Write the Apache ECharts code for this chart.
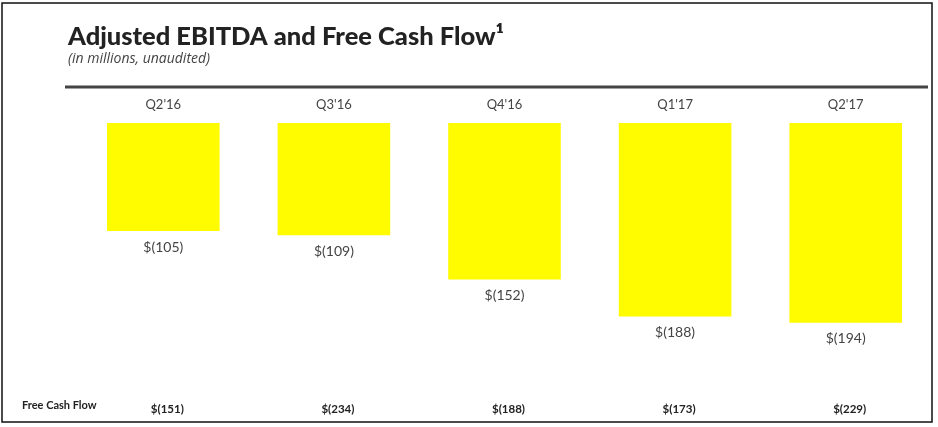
<!DOCTYPE html>
<html>
<head>
<meta charset="utf-8">
<script src="https://cdn.jsdelivr.net/npm/echarts@6/dist/echarts.min.js"></script>
<style>
  html, body { margin: 0; padding: 0; background: #fff; }
  #main { width: 938px; height: 427px; }
</style>
</head>
<body>
<div id="main"></div>
<script>
var quarters = ["Q2'16", "Q3'16", "Q4'16", "Q1'17", "Q2'17"];
var adjustedEbitda = [-105, -109, -152, -188, -194];
var freeCashFlow = [-151, -234, -188, -173, -229];

function money(v) {
    return '$(' + Math.abs(v) + ')';
}

initChart();

function initChart() {
    var chartDom = document.getElementById('main');
    var myChart = echarts.init(chartDom);
    var option;

    option = {
        animation: false,
        backgroundColor: '#fff',
        textStyle: { fontFamily: 'Lato, "Open Sans", sans-serif' },
        title: {
            text: 'Adjusted EBITDA and Free Cash Flow\u00b9',
            subtext: '(in millions, unaudited)',
            left: 63,
            top: 19,
            itemGap: 2,
            textStyle: {
                fontFamily: 'Lato, sans-serif',
                fontSize: 25.5,
                fontWeight: 900,
                color: '#222'
            },
            subtextStyle: {
                fontFamily: '"Open Sans", sans-serif',
                fontSize: 14,
                fontStyle: 'italic',
                color: '#444'
            }
        },
        graphic: [
            {
                type: 'rect',
                shape: { x: 2, y: 3, width: 930, height: 419 },
                style: { fill: 'none', stroke: '#111', lineWidth: 1.5 },
                silent: true
            },
            {
                type: 'line',
                shape: { x1: 65, y1: 87, x2: 928, y2: 87 },
                style: { stroke: '#444', lineWidth: 3 },
                silent: true
            },
            {
                type: 'text',
                left: 22,
                top: 400,
                style: {
                    text: 'Free Cash Flow',
                    font: 'bold 11px Lato, "Open Sans", sans-serif',
                    fill: '#222'
                }
            }
        ],
        grid: {
            left: 78,
            right: 7,
            top: 123,
            bottom: 26
        },
        xAxis: [
            {
                type: 'category',
                position: 'top',
                data: quarters,
                axisLine: { show: false },
                axisTick: { show: false },
                axisLabel: {
                    margin: 12,
                    fontSize: 13,
                    color: '#444'
                }
            },
            {
                type: 'category',
                position: 'bottom',
                data: freeCashFlow.map(money),
                axisLine: { show: false },
                axisTick: { show: false },
                axisLabel: {
                    margin: 2,
                    fontSize: 11.5,
                    fontWeight: 'bold',
                    color: '#222',
                    padding: [0, 0, 0, 8]
                }
            }
        ],
        yAxis: [
            {
                type: 'value',
                min: -270,
                max: 0,
                show: false,
                splitLine: { show: false }
            }
        ],
        series: [
            {
                name: 'Adjusted EBITDA',
                type: 'bar',
                xAxisIndex: 0,
                barWidth: '66%',
                data: adjustedEbitda,
                itemStyle: { color: '#fffc00' },
                label: {
                    show: true,
                    position: 'bottom',
                    distance: 9,
                    fontSize: 14,
                    color: '#444',
                    formatter: function (p) { return money(p.value); }
                }
            }
        ]
    };

    option && myChart.setOption(option);
}
</script>
</body>
</html>
